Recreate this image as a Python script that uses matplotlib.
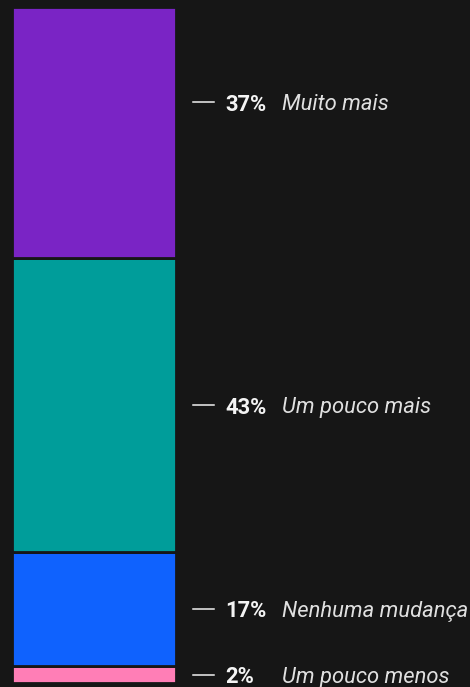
import matplotlib
matplotlib.use("Agg")
import matplotlib.pyplot as plt
import matplotlib.transforms as mtransforms

# stacked from bottom to top
labels = ["Um pouco menos", "Nenhuma mudança", "Um pouco mais", "Muito mais"]
values = [2.5, 16.9, 43.4, 37.2]
pct_labels = ["2%", "17%", "43%", "37%"]
colors = ["#ff7eb6", "#0f62fe", "#009d9a", "#7a24c5"]
label_shift = [0, 0, 0, 4.5]  # top label sits a bit above its segment centre

bg = "#161616"
W, H = 470, 687
fig = plt.figure(figsize=(W / 100, H / 100), dpi=100, facecolor=bg)
ax = fig.add_axes([11.5 / W, 4 / H, 164 / W, 676 / H])
ax.set_facecolor(bg)

bottom = 0
mids = []
for v, c in zip(values, colors):
    ax.bar(0, v, bottom=bottom, width=1, color=c, edgecolor=bg, linewidth=2)
    mids.append(bottom + v / 2)
    bottom += v
ax.set_xlim(-0.5, 0.5)
ax.set_ylim(0, sum(values))
ax.axis("off")

tr = mtransforms.blended_transform_factory(fig.transFigure, ax.transData)
for lab, p, m, s in zip(labels, pct_labels, mids, label_shift):
    y = m + s
    ax.plot([193 / W, 214 / W], [y, y], transform=tr, color="#f0f0f0",
            lw=1.1, clip_on=False)
    ax.text(225 / W, y, p, transform=tr, color="#f4f4f4", fontsize=15.8,
            fontweight="bold", va="center_baseline", ha="left", family="Roboto")
    ax.text(282 / W, y, lab, transform=tr, color="#e0e0e0", fontsize=15.8,
            style="italic", va="center_baseline", ha="left", family="Roboto")

fig.savefig("out.png", dpi=100, facecolor=bg)
